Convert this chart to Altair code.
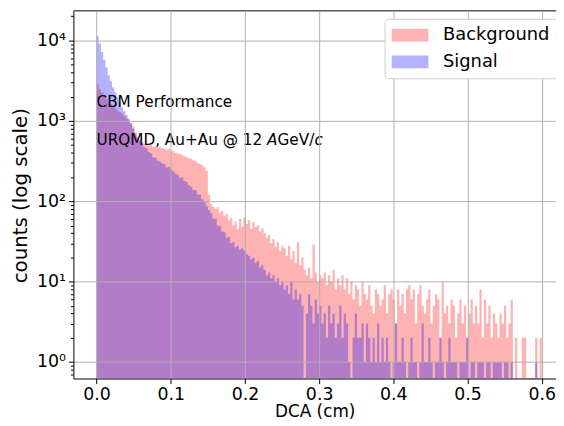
import altair as alt
import pandas as pd

# ---------------- data ----------------
BIN_WIDTH = 0.003  # DCA bin width (cm), 200 bins over 0 .. 0.6

signal_counts = [
    11400, 9100, 7200, 5700, 4600, 3700, 3100, 2600, 2250, 1950,
    1700, 1480, 1320, 1180, 1060, 930, 800, 690, 620, 565,
    520, 470, 455, 410, 395, 352, 348, 318, 312, 296,
    288, 262, 266, 248, 238, 221, 214, 196, 198, 178,
    174, 158, 152, 139, 137, 122, 120, 106, 101, 88,
    78, 72, 61, 60, 50, 49, 42, 41, 35, 36,
    30, 31, 27, 28, 25, 26, 24, 22, 21, 19,
    20, 17, 18, 15, 16, 14, 12, 13, 11, 12,
    10, 11, 9, 10, 8, 9, 7, 10, 6, 8,
    6, 7, 5, 0, 4, 7, 5, 3, 6, 4,
    5, 3, 4, 2, 5, 3, 4, 2, 3, 5,
    2, 4, 3, 1, 0, 2, 4, 2, 2, 3,
    1, 3, 2, 1, 2, 1, 3, 1, 2, 1,
    2, 1, 0, 1, 3, 1, 1, 2, 1, 0,
    1, 2, 1, 1, 0, 1, 3, 1, 1, 2,
    1, 0, 1, 1, 2, 1, 0, 1, 2, 1,
    1, 1, 0, 1, 1, 1, 2, 0, 1, 1,
    0, 1, 1, 1, 0, 1, 1, 0, 1, 1,
    1, 1, 0, 1, 1, 0, 1, 0, 0, 0,
    0, 0, 0, 0, 0, 0, 0, 1, 0, 0,
]

background_counts = [
    2830, 2500, 2250, 2050, 1880, 1730, 1620, 1500, 1420, 1350,
    1290, 1230, 1150, 1080, 1010, 940, 860, 720, 640, 585,
    545, 520, 508, 492, 498, 478, 482, 466, 470, 455,
    452, 438, 445, 422, 418, 402, 395, 386, 378, 362,
    356, 342, 338, 322, 318, 300, 290, 282, 265, 240,
    120, 92, 86, 80, 84, 72, 76, 65, 70, 58,
    62, 50, 56, 45, 60, 48, 63, 52, 58, 45,
    55, 48, 50, 42, 46, 40, 35, 38, 30, 34,
    27, 31, 24, 28, 26, 21, 28, 19, 24, 17,
    31, 16, 20, 14, 12, 15, 11, 29, 13, 10,
    12, 11, 13, 9, 12, 10, 14, 8, 11, 9,
    12, 8, 11, 7, 10, 6, 9, 8, 5, 10,
    7, 6, 9, 5, 4, 8, 7, 5, 6, 9,
    4, 7, 8, 6, 3, 8, 5, 7, 4, 8,
    9, 6, 8, 3, 7, 9, 5, 4, 6, 8,
    3, 5, 7, 6, 2, 10, 4, 5, 3, 6,
    5, 2, 4, 6, 3, 5, 2, 4, 6, 3,
    5, 3, 8, 2, 6, 3, 5, 2, 4, 3,
    2, 4, 3, 5, 2, 3, 6, 0, 2, 0,
    0, 2, 2, 0, 0, 0, 0, 2, 0, 2,
]

series_names = ["Background", "Signal"]
series_colors = ["red", "blue"]

x_ticks = [0.0, 0.1, 0.2, 0.3, 0.4, 0.5, 0.6]
y_ticks = [1, 10, 100, 1000, 10000]
y_tick_labels = ["10\u2070", "10\u00b9", "10\u00b2", "10\u00b3", "10\u2074"]
y_minor = [m * 10 ** k for k in range(-1, 5) for m in range(2, 10)]
y_minor = [v for v in y_minor if 0.63 < v < 23000]

annotation_line1 = "CBM Performance"
annotation_line2 = ["URQMD, Au+Au @ 12 ", "A", "GeV/", "c"]
annotation_line2_styles = ["normal", "italic", "normal", "italic"]
annotation_x = 0.0
annotation_y = [1500.0, 500.0]

X_DOMAIN = [-0.0311, 0.6191]
Y_DOMAIN = [0.6224, 23370]

# ---------------- table ----------------
rows = []
for name, counts in zip(series_names, [background_counts, signal_counts]):
    ext = counts + [counts[-1]]
    for i, c in enumerate(ext):
        rows.append({"dca": round(i * BIN_WIDTH, 6), "count": c, "series": name})
df = pd.DataFrame(rows)

FONT = "DejaVu Sans"
ANN_SIZE = 15.4
xscale = alt.Scale(domain=X_DOMAIN, nice=False, zero=False)
yscale = alt.Scale(type="log", domain=Y_DOMAIN, nice=False)

label_expr = " : ".join(
    f"datum.value == {v} ? '{t}'" for v, t in zip(y_ticks, y_tick_labels)
) + " : ''"

areas = alt.Chart(df).transform_calculate(
    plotted="datum.count > 0 ? datum.count : 0.1"
).mark_area(interpolate="step-after", opacity=0.3, clip=True).encode(
    x=alt.X("dca:Q", scale=xscale, axis=alt.Axis(
        values=x_ticks, format=".1f", title="DCA (cm)",
        labelFontSize=17.5, labelFont=FONT, labelColor="black",
        tickSize=5, tickColor="black", tickWidth=1,
        domainColor="black", domainWidth=1,
        grid=True, gridColor="#b0b0b0", gridWidth=1,
        labelPadding=2,
        titleFont=FONT, titleFontSize=17, titleFontWeight="normal", titleColor="black",
        titleY=38, titleBaseline="alphabetic",
        zindex=1,
    )),
    y=alt.Y("plotted:Q", scale=yscale, stack=None, axis=alt.Axis(
        values=y_ticks, labelExpr=label_expr, title="counts (log scale)",
        labelFontSize=17.5, labelFont=FONT, labelColor="black",
        tickSize=5, tickColor="black", tickWidth=1,
        domainColor="black", domainWidth=1,
        grid=True, gridColor="#b0b0b0", gridWidth=1,
        labelPadding=3, orient="left",
        titleFont=FONT, titleFontSize=20, titleFontWeight="normal", titleColor="black",
        titleX=-53, titleY=186, titleAngle=270, titleAlign="center", titleBaseline="middle",
        zindex=1,
    )),
    y2=alt.datum(Y_DOMAIN[0]),
    color=alt.Color("series:N", scale=alt.Scale(domain=series_names, range=series_colors),
                    legend=alt.Legend(
                        title=None, orient="none", legendX=314, legendY=8,
                        labelFont=FONT, labelFontSize=18, labelColor="black",
                        symbolType="M-1,-0.7H3V0.7H-1Z", symbolSize=342,
                        symbolOpacity=0.3, symbolStrokeWidth=0,
                        labelOffset=33, rowPadding=8, padding=7,
                        fillColor="white", strokeColor="#cccccc", cornerRadius=4,
                        zindex=2,
                    )),
)

minor = alt.Chart(pd.DataFrame({"v": y_minor})).mark_point(opacity=0).encode(
    y=alt.Y("v:Q", scale=yscale, axis=alt.Axis(
        orient="left", values=y_minor, labels=False, ticks=True, tickSize=3,
        tickColor="black", tickWidth=1, domain=False, grid=False, title=None,
    )),
)

top_spine = alt.Chart(pd.DataFrame({"x": [X_DOMAIN[0]], "x2": [X_DOMAIN[1]], "y": [Y_DOMAIN[1]]})).mark_rule(
    color="black", strokeWidth=1
).encode(
    x=alt.X("x:Q", scale=xscale), x2="x2:Q",
    y=alt.Y("y:Q", scale=yscale, axis=None),
)

text1 = alt.Chart(pd.DataFrame({"x": [annotation_x], "y": [annotation_y[0]], "t": [annotation_line1]})).mark_text(
    align="left", baseline="alphabetic", font=FONT, fontSize=ANN_SIZE, color="black"
).encode(x=alt.X("x:Q", scale=xscale), y=alt.Y("y:Q", scale=yscale, axis=None), text="t:N")

# advance widths (in em) of DejaVu Sans for the pieces of line 2
piece_em = [0.0, 11.18, 11.864, 14.28]
text2_layers = []
for piece, style, em in zip(annotation_line2, annotation_line2_styles, piece_em):
    text2_layers.append(
        alt.Chart(pd.DataFrame({"x": [annotation_x], "y": [annotation_y[1]], "t": [piece]})).mark_text(
            align="left", baseline="alphabetic", font=FONT, fontSize=ANN_SIZE, color="black",
            fontStyle=style, dx=em * ANN_SIZE
        ).encode(x=alt.X("x:Q", scale=xscale), y=alt.Y("y:Q", scale=yscale, axis=None), text="t:N")
    )

chart = alt.layer(areas, minor, top_spine, text1, *text2_layers).resolve_axis(
    y="independent"
).properties(
    width=487, height=371,
    autosize=alt.AutoSizeParams(type="none"),
    padding={"left": 66, "top": 1, "right": 0, "bottom": 43},
    background="white",
).configure_view(stroke=None)

chart.save("out.html", embed_options={"renderer": "svg", "actions": False})
